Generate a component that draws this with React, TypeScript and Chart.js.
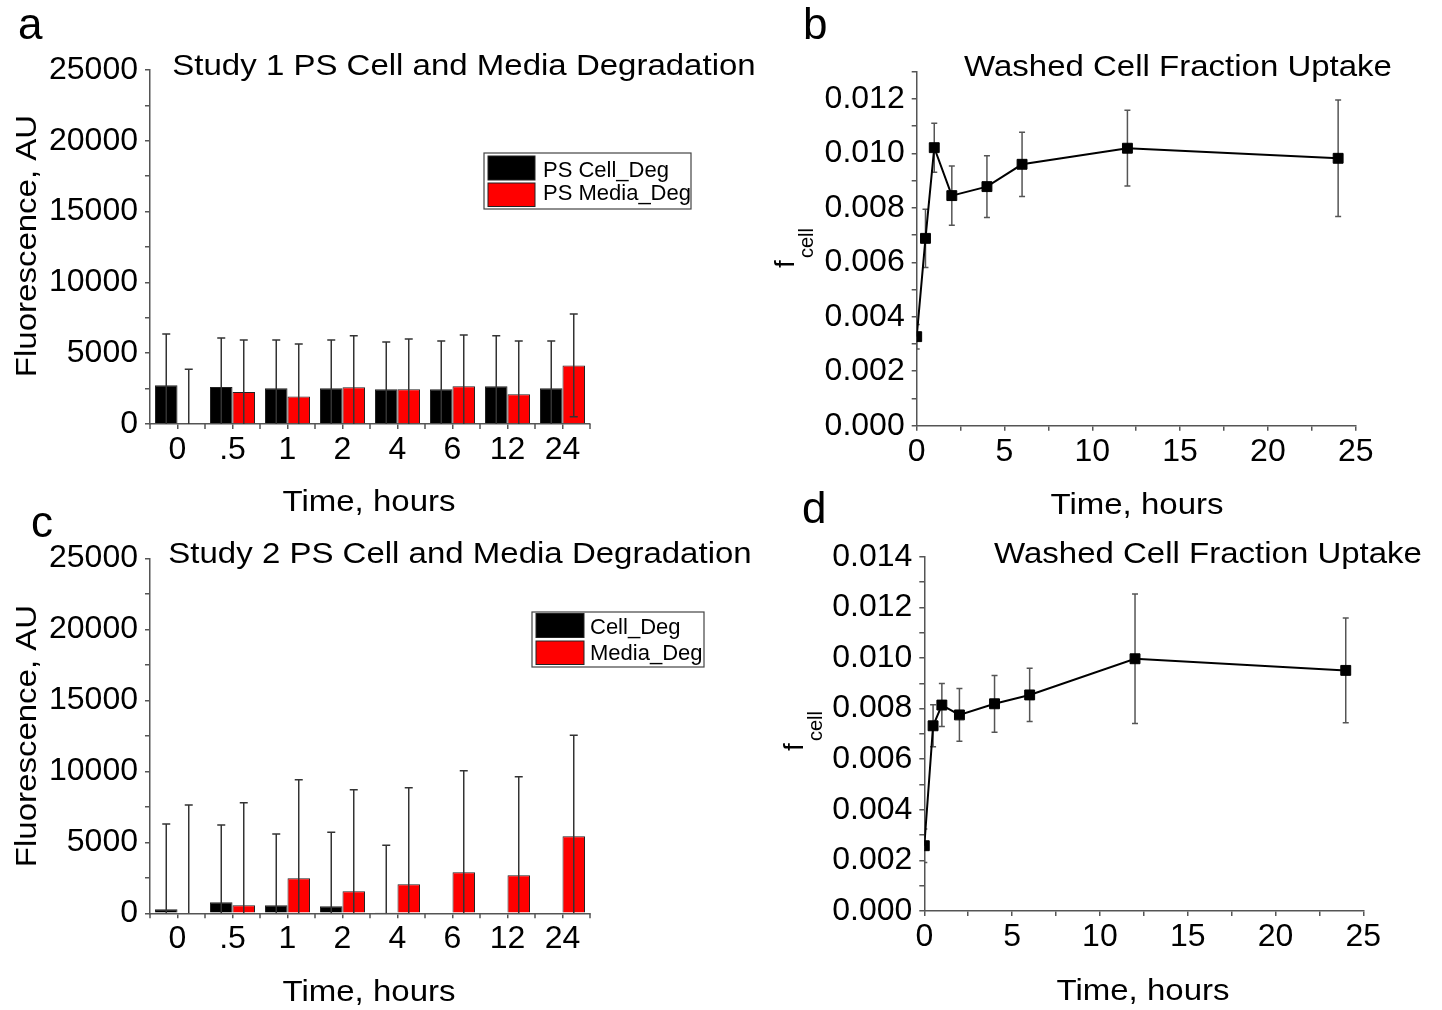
import React, { useEffect, useRef } from 'react';
import { Chart, registerables } from 'chart.js';

Chart.register(...registerables);

const FONT = '"Liberation Sans", Arial, sans-serif';
const AXIS = '#555555';

// ---------- data ----------
const timeLabels = ['0', '.5', '1', '2', '4', '6', '12', '24'];

const study1Cell = [2730, 2610, 2520, 2520, 2450, 2450, 2660, 2520];
const study1CellErr = [3630, 3460, 3410, 3410, 3340, 3410, 3580, 3340];
const study1Media = [0, 2260, 1950, 2590, 2450, 2660, 2100, 4140];
const study1MediaErr = [3860, 3670, 3700, 3650, 3550, 3620, 3760, 3620];

const study2Cell = [280, 780, 560, 490, 70, 0, 0, 0];
const study2CellErr = [6010, 5440, 5025, 5210, 4720, 0, 0, 0];
const study2Media = [0, 560, 2470, 1550, 2040, 2890, 2680, 5420];
const study2MediaErr = [7630, 7230, 6940, 7150, 6800, 7150, 6940, 7110];

const hours = [0, 0.5, 1, 2, 4, 6, 12, 24];
const fcell1 = [0.00327, 0.00688, 0.01021, 0.00845, 0.00878, 0.0096, 0.01019, 0.00982];
const fcell1Err = [0.00045, 0.00107, 0.0009, 0.00109, 0.00113, 0.00118, 0.00139, 0.00214];
const fcell2 = [0.00258, 0.00732, 0.00814, 0.00775, 0.00819, 0.00854, 0.00997, 0.00951];
const fcell2Err = [0.00066, 0.00083, 0.00085, 0.00104, 0.00112, 0.00105, 0.00256, 0.00207];

const barYMax = 25000;
const barYStep = 2500;
const barYLabelStep = 5000;
const hourMax = 25;
const hourStep = 2.5;
const hourLabelStep = 5;

// ---------- helpers ----------
type Txt = { text: string; x: number; y: number; size: number; align?: CanvasTextAlign; rotate?: boolean; sx?: number };

function drawText(ctx: CanvasRenderingContext2D, t: Txt) {
  ctx.save();
  ctx.translate(t.x, t.y);
  if (t.rotate) ctx.rotate(-Math.PI / 2);
  ctx.scale(t.sx ?? 1, 1);
  ctx.font = `${t.size}px ${FONT}`;
  ctx.fillStyle = '#000';
  ctx.textAlign = t.align ?? 'left';
  ctx.textBaseline = 'alphabetic';
  ctx.fillText(t.text, 0, 0);
  ctx.restore();
}

type PanelSpec = {
  ox: number; oy: number; w: number; h: number;
  area: { left: number; top: number; right: number; bottom: number }; // page coords
  texts: Txt[]; // page coords
  legend?: { box: [number, number, number, number]; swX: [number, number]; rows: { y0: number; y1: number; base: number }[]; textX: number };
  errors: number[][];
  errColor: string;
  capHalf: number;
  errOnTop: boolean;
  catTicks?: boolean;
  fcell?: { x: number; y: number };
};

function decorPlugin(p: PanelSpec) {
  const drawErrors = (chart: any) => {
    const ctx: CanvasRenderingContext2D = chart.ctx;
    const yScale = chart.scales.y;
    const ca = chart.chartArea;
    ctx.save();
    ctx.beginPath();
    ctx.rect(ca.left, ca.top - 20, ca.right - ca.left, ca.bottom - ca.top + 20);
    ctx.clip();
    ctx.strokeStyle = p.errColor;
    ctx.lineWidth = 1.5;
    chart.data.datasets.forEach((ds: any, i: number) => {
      const meta = chart.getDatasetMeta(i);
      const errs = p.errors[i];
      meta.data.forEach((el: any, j: number) => {
        const e = errs[j];
        if (!e) return;
        const raw = ds.data[j];
        const v = typeof raw === 'number' ? raw : raw.y;
        const x = el.x;
        const yt = yScale.getPixelForValue(v + e);
        const lo = v - e;
        const yb = yScale.getPixelForValue(Math.max(0, lo));
        ctx.beginPath();
        ctx.moveTo(x, yb);
        ctx.lineTo(x, yt);
        ctx.moveTo(x - p.capHalf, yt);
        ctx.lineTo(x + p.capHalf, yt);
        if (lo > 0) {
          ctx.moveTo(x - p.capHalf, yb);
          ctx.lineTo(x + p.capHalf, yb);
        }
        ctx.stroke();
      });
    });
    ctx.restore();
  };
  return {
    id: 'decor',
    beforeDatasetsDraw(chart: any) {
      if (!p.errOnTop) drawErrors(chart);
    },
    afterDatasetsDraw(chart: any) {
      if (p.errOnTop) drawErrors(chart);
    },
    afterDraw(chart: any) {
      const ctx: CanvasRenderingContext2D = chart.ctx;
      const ca = chart.chartArea;
      if (p.catTicks) {
        const xs = chart.scales.x;
        const n = chart.data.labels.length;
        const step = (xs.right - xs.left) / n;
        ctx.save();
        ctx.strokeStyle = AXIS;
        ctx.lineWidth = 1.5;
        ctx.beginPath();
        for (let i = 0; i <= n; i++) {
          const x = xs.left + i * step;
          ctx.moveTo(x, ca.bottom);
          ctx.lineTo(x, ca.bottom + 5);
        }
        ctx.stroke();
        ctx.restore();
      }
      p.texts.forEach((t) => drawText(ctx, { ...t, x: t.x - p.ox, y: t.y - p.oy }));
      if (p.legend) {
        const L = p.legend;
        ctx.save();
        ctx.fillStyle = '#fff';
        ctx.strokeStyle = '#444';
        ctx.lineWidth = 1.2;
        const [bx0, by0, bx1, by1] = L.box;
        ctx.fillRect(bx0 - p.ox, by0 - p.oy, bx1 - bx0, by1 - by0);
        ctx.strokeRect(bx0 - p.ox, by0 - p.oy, bx1 - bx0, by1 - by0);
        chart.data.datasets.forEach((ds: any, i: number) => {
          const r = L.rows[i];
          ctx.fillStyle = ds.backgroundColor;
          ctx.fillRect(L.swX[0] - p.ox, r.y0 - p.oy, L.swX[1] - L.swX[0], r.y1 - r.y0);
          ctx.strokeStyle = '#222';
          ctx.lineWidth = 1;
          ctx.strokeRect(L.swX[0] - p.ox, r.y0 - p.oy, L.swX[1] - L.swX[0], r.y1 - r.y0);
          drawText(ctx, { text: ds.label, x: L.textX - p.ox, y: r.base - p.oy, size: 22 });
        });
        ctx.restore();
      }
      if (p.fcell) {
        const fx = p.fcell.x - p.ox;
        const fy = p.fcell.y - p.oy;
        ctx.save();
        ctx.translate(fx, fy);
        ctx.rotate(-Math.PI / 2);
        ctx.fillStyle = '#000';
        ctx.textBaseline = 'alphabetic';
        ctx.textAlign = 'left';
        ctx.font = `28px ${FONT}`;
        ctx.fillText('f', 0, 0);
        ctx.font = `20px ${FONT}`;
        ctx.fillText('cell', 10, 19);
        ctx.restore();
      }
    },
  };
}

const tickFont = { family: FONT, size: 32 };

function axisCommon() {
  return {
    grid: { display: true, drawOnChartArea: false, drawTicks: true, tickLength: 5, color: AXIS, lineWidth: 1.5 },
    border: { display: true, color: AXIS, width: 1.5 },
  };
}

function barConfig(p: PanelSpec, cell: number[], media: number[], labels: [string, string]) {
  return {
    type: 'bar' as const,
    data: {
      labels: timeLabels,
      datasets: [
        { label: labels[0], data: cell, backgroundColor: '#000000', borderColor: '#222222', borderWidth: 1, categoryPercentage: 0.818, barPercentage: 1 },
        { label: labels[1], data: media, backgroundColor: '#ff0000', borderColor: '#222222', borderWidth: 1, categoryPercentage: 0.818, barPercentage: 1 },
      ],
    },
    options: {
      responsive: false,
      animation: false as const,
      events: [],
      layout: { padding: { left: 0, top: p.area.top - p.oy, right: p.ox + p.w - p.area.right, bottom: 0 } },
      plugins: { legend: { display: false }, title: { display: false }, tooltip: { enabled: false } },
      scales: {
        x: {
          type: 'category' as const,
          offset: true,
          ...axisCommon(),
          grid: { ...axisCommon().grid, offset: false },
          ticks: { font: tickFont, color: '#000', padding: 2, maxRotation: 0, autoSkip: false },
          afterFit: (s: any) => { s.height = p.oy + p.h - p.area.bottom; },
        },
        y: {
          min: 0,
          max: barYMax,
          ...axisCommon(),
          ticks: {
            stepSize: barYStep,
            autoSkip: false,
            font: tickFont,
            color: '#000',
            padding: 7,
            callback: (v: any) => (Number(v) % barYLabelStep === 0 ? String(v) : ''),
          },
          afterFit: (s: any) => { s.width = p.area.left - p.ox; },
        },
      },
    },
    plugins: [decorPlugin(p)],
  };
}

function lineConfig(p: PanelSpec, vals: number[], yMax: number) {
  return {
    type: 'line' as const,
    data: {
      datasets: [
        {
          label: 'fcell',
          data: hours.map((h, i) => ({ x: h, y: vals[i] })),
          borderColor: '#000',
          borderWidth: 2,
          pointStyle: 'rect' as const,
          pointRadius: 7,
          pointBackgroundColor: '#000',
          pointBorderColor: '#000',
          pointBorderWidth: 1,
          tension: 0,
          clip: 0,
        },
      ],
    },
    options: {
      responsive: false,
      animation: false as const,
      events: [],
      layout: { padding: { left: 0, top: p.area.top - p.oy, right: p.ox + p.w - p.area.right, bottom: 0 } },
      plugins: { legend: { display: false }, title: { display: false }, tooltip: { enabled: false } },
      scales: {
        x: {
          type: 'linear' as const,
          min: 0,
          max: hourMax,
          ...axisCommon(),
          ticks: {
            stepSize: hourStep,
            autoSkip: false,
            font: tickFont,
            color: '#000',
            padding: 2,
            maxRotation: 0,
            callback: (v: any) => (Math.abs(Number(v) % hourLabelStep) < 1e-9 ? String(v) : ''),
          },
          afterFit: (s: any) => { s.height = p.oy + p.h - p.area.bottom; },
        },
        y: {
          min: 0,
          max: yMax,
          ...axisCommon(),
          ticks: {
            stepSize: 0.001,
            autoSkip: false,
            font: tickFont,
            color: '#000',
            padding: 7,
            callback: (v: any) => {
              const k = Math.round(Number(v) * 1000);
              return k % 2 === 0 ? (k / 1000).toFixed(3) : '';
            },
          },
          afterFit: (s: any) => { s.width = p.area.left - p.ox; },
        },
      },
    },
    plugins: [decorPlugin(p)],
  };
}

const TS = 30; // text size
const SX = 1.1; // horizontal stretch of the figure text

const panelA: PanelSpec = {
  ox: 0, oy: 0, w: 800, h: 520,
  area: { left: 150, top: 70, right: 590, bottom: 424 },
  texts: [
    { text: 'a', x: 18, y: 39, size: 44 },
    { text: 'Study 1 PS Cell and Media Degradation', x: 464, y: 75, size: TS, align: 'center', sx: SX },
    { text: 'Time, hours', x: 369, y: 511, size: TS, align: 'center', sx: SX },
    { text: 'Fluorescence, AU', x: 36, y: 246, size: TS, align: 'center', sx: SX, rotate: true },
  ],
  legend: {
    box: [484, 153, 691, 209], swX: [488, 535],
    rows: [{ y0: 156, y1: 180, base: 176.5 }, { y0: 183, y1: 206.5, base: 200 }],
    textX: 543,
  },
  errors: [study1CellErr, study1MediaErr],
  errColor: '#333', capHalf: 4, errOnTop: true, catTicks: true,
};

const panelB: PanelSpec = {
  ox: 720, oy: 0, w: 722, h: 520,
  area: { left: 916.7, top: 71.7, right: 1355.7, bottom: 425.7 },
  texts: [
    { text: 'b', x: 803, y: 39, size: 44 },
    { text: 'Washed Cell Fraction Uptake', x: 1178, y: 76, size: TS, align: 'center', sx: SX },
    { text: 'Time, hours', x: 1137, y: 514, size: TS, align: 'center', sx: SX },
  ],
  errors: [fcell1Err],
  errColor: '#555', capHalf: 3, errOnTop: false,
  fcell: { x: 794, y: 268 },
};

const panelC: PanelSpec = {
  ox: 0, oy: 490, w: 800, h: 520,
  area: { left: 150, top: 558.3, right: 590, bottom: 913.3 },
  texts: [
    { text: 'c', x: 31, y: 537, size: 44 },
    { text: 'Study 2 PS Cell and Media Degradation', x: 460, y: 563, size: TS, align: 'center', sx: SX },
    { text: 'Time, hours', x: 369, y: 1001, size: TS, align: 'center', sx: SX },
    { text: 'Fluorescence, AU', x: 36, y: 736, size: TS, align: 'center', sx: SX, rotate: true },
  ],
  legend: {
    box: [532, 612, 704, 667], swX: [536, 584],
    rows: [{ y0: 613.5, y1: 637.5, base: 634 }, { y0: 641, y1: 664.5, base: 659.5 }],
    textX: 590,
  },
  errors: [study2CellErr, study2MediaErr],
  errColor: '#333', capHalf: 4, errOnTop: true, catTicks: true,
};

const panelD: PanelSpec = {
  ox: 720, oy: 490, w: 722, h: 520,
  area: { left: 924.3, top: 556.8, right: 1363.3, bottom: 911 },
  texts: [
    { text: 'd', x: 802, y: 523, size: 44 },
    { text: 'Washed Cell Fraction Uptake', x: 1208, y: 563, size: TS, align: 'center', sx: SX },
    { text: 'Time, hours', x: 1143, y: 1000, size: TS, align: 'center', sx: SX },
  ],
  errors: [fcell2Err],
  errColor: '#555', capHalf: 3, errOnTop: false,
  fcell: { x: 803, y: 751 },
};

function Panel({ spec, make }: { spec: PanelSpec; make: () => any }) {
  const ref = useRef<HTMLCanvasElement>(null);
  useEffect(() => {
    const chart = new Chart(ref.current as HTMLCanvasElement, make());
    return () => chart.destroy();
  }, []);
  return (
    <div style={{ position: 'absolute', left: spec.ox, top: spec.oy, width: spec.w, height: spec.h }}>
      <canvas ref={ref} width={spec.w} height={spec.h} style={{ width: spec.w, height: spec.h, display: 'block' }} />
    </div>
  );
}

export default function App() {
  return (
    <div style={{ position: 'absolute', left: 0, top: 0, width: 1442, height: 1010, background: '#fff', overflow: 'hidden' }}>
      <Panel spec={panelA} make={() => barConfig(panelA, study1Cell, study1Media, ['PS Cell_Deg', 'PS Media_Deg'])} />
      <Panel spec={panelB} make={() => lineConfig(panelB, fcell1, 0.013)} />
      <Panel spec={panelC} make={() => barConfig(panelC, study2Cell, study2Media, ['Cell_Deg', 'Media_Deg'])} />
      <Panel spec={panelD} make={() => lineConfig(panelD, fcell2, 0.014)} />
    </div>
  );
}
